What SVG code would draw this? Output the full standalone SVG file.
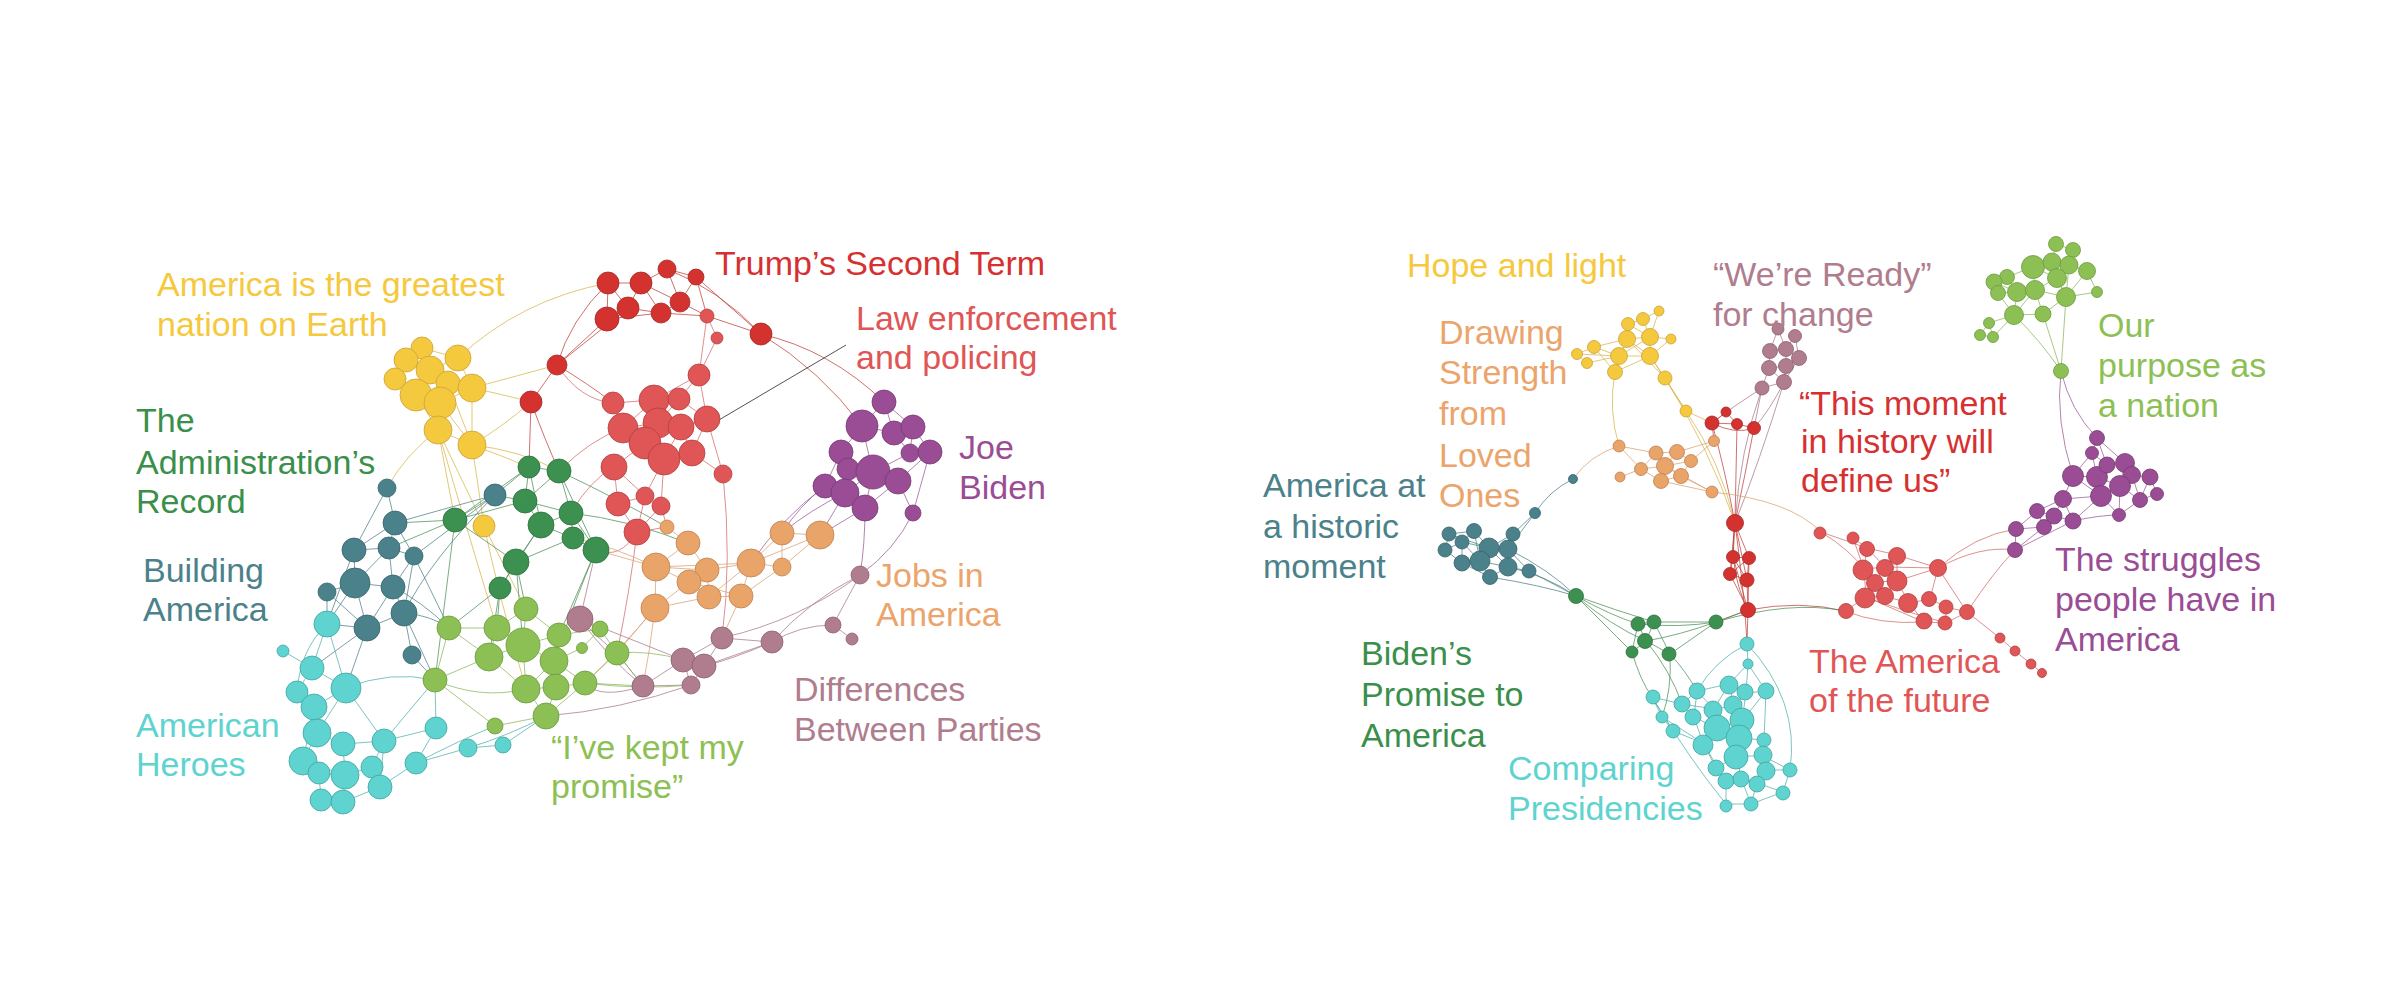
<svg xmlns="http://www.w3.org/2000/svg" width="2404" height="992" viewBox="0 0 2404 992">
<style>
.e path{fill:none;stroke-width:1;stroke-opacity:.75}
.ey{stroke:#D9B44A}.et{stroke:#C0403A}.el{stroke:#D46A6A}.ep{stroke:#9A5A95}.eo{stroke:#D9A070}.ed{stroke:#A8788A}.eg{stroke:#4E8F5A}.eb{stroke:#4E8088}.ec{stroke:#4FB0AC}.ek{stroke:#8AB55A}
circle{stroke-width:.8}
.ny circle{fill:#F5C93E;stroke:#C9A23A}
.nt circle{fill:#D4322F;stroke:#A02828}
.nl circle{fill:#E05555;stroke:#B04040}
.np circle{fill:#9A4D95;stroke:#743A72}
.no circle{fill:#E9A46A;stroke:#BF8050}
.nd circle{fill:#B07D8E;stroke:#8A5E6E}
.ng circle{fill:#3D9150;stroke:#2C6E3B}
.nb circle{fill:#4B818B;stroke:#36626A}
.nc circle{fill:#5ED3CF;stroke:#3FA5A1}
.nk circle{fill:#8DC054;stroke:#6A9A3C}
text{font-family:"Liberation Sans",Arial,Helvetica,sans-serif;font-size:34px}
</style>
<rect width="2404" height="992" fill="#FFFFFF"/>
<g id="connectors" class="e">
<path class="ey" d="M422 348L406 360M422 348L430 370M422 348L458 358M406 360L430 370M406 360L395 379M458 358L430 370M458 358L472 388M430 370L448 383M430 370L416 395M395 379L416 395M448 383L472 388M448 383L440 403M416 395L440 403M472 388L440 403M440 403L438 430M416 395L438 430M472 388L472 445M440 403L472 445M438 430L472 445M448 383L472 445M438 430L484 526M472 445L484 526M484 526L526 609M484 526Q500 600 526 689M438 430Q470 540 497 628M438 430Q405 455 387 488M438 430L455 520M472 445Q500 455 529 467M472 445Q520 450 559 471M472 388Q520 375 557 365M472 388Q505 395 531 402M458 358Q520 300 608 283M472 445Q505 425 531 402"/>
<path class="et" d="M608 283L641 283M608 283L607 319M608 283L628 308M641 283L667 269M641 283L628 308M641 283L661 313M667 269L696 277M667 269L680 302M607 319L628 308M628 308L661 313M661 313L680 302M680 302L696 277M641 283L680 302M607 319L661 313M696 277L707 316M680 302L707 316M661 313L707 316M667 269Q720 290 761 334M696 277L761 334M707 316L761 334M607 319L557 365M628 308L557 365M557 365L531 402M608 283Q570 320 557 365M531 402L529 467M531 402Q545 440 559 471M557 365Q590 385 613 403M761 334Q830 350 884 402M761 334Q820 370 862 426"/>
<path class="el" d="M707 316L717 338M717 338L699 375M699 375L654 400M699 375L679 399M699 375L707 419M613 403L654 400M613 403L623 428M654 400L679 399M654 400L623 428M654 400L658 423M679 399L658 423M679 399L707 419M623 428L658 423M623 428L645 443M658 423L681 427M658 423L645 443M681 427L707 419M681 427L664 459M681 427L692 453M707 419L692 453M645 443L664 459M645 443L614 467M664 459L692 453M664 459L645 496M664 459L661 506M614 467L618 504M614 467L645 496M645 496L661 506M645 496L618 504M618 504L637 532M645 496L637 532M661 506L637 532M707 419L723 474M692 453L723 474M723 474Q732 560 722 638M637 532L667 527M661 506L667 527M637 532Q620 560 596 550M637 532Q630 590 617 653M623 428Q590 440 559 471M699 375L707 316M613 403Q580 400 557 365M614 467Q590 480 571 513"/>
<path class="ep" d="M884 402L862 426M884 402L894 433M884 402L913 427M862 426L894 433M862 426L841 452M862 426L873 472M894 433L913 427M894 433L910 453M913 427L930 452M913 427L910 453M841 452L848 469M841 452L825 486M910 453L930 452M910 453L873 472M930 452L898 481M930 452L913 513M848 469L873 472M848 469L845 493M873 472L898 481M873 472L845 493M873 472L865 508M898 481L865 508M825 486L845 493M845 493L865 508M898 481L913 513M825 486Q800 505 782 533M845 493Q810 510 782 533M845 493L820 535M865 508L820 535M825 486Q780 520 751 563M865 508Q865 545 860 575M913 513Q895 550 860 575"/>
<path class="eo" d="M667 527L688 543M688 543L656 567M688 543L707 570M782 533L820 535M782 533L751 563M782 533L782 567M820 535L782 567M820 535L751 563M656 567L707 570M656 567L689 582M656 567L655 608M707 570L689 582M707 570L751 563M707 570L709 597M689 582L709 597M689 582L741 596M751 563L782 567M751 563L741 596M751 563L709 597M709 597L741 596M709 597L655 608M741 596L782 567M655 608L689 582M656 567L751 563M655 608L617 653M655 608Q650 650 643 686M656 567L596 550M656 567Q610 545 573 538M741 596L722 638M655 608Q620 650 585 683"/>
<path class="ed" d="M860 575L833 625M833 625L852 639M860 575Q810 600 772 642M833 625Q800 625 772 642M722 638L772 642M722 638L683 660M722 638L704 666M772 642L704 666M683 660L704 666M683 660L643 686M683 660L691 685M704 666L691 685M643 686L691 685M580 619L683 660M580 619Q610 660 643 686M580 619L600 629M580 619Q600 640 617 653M580 619L596 550M643 686L617 653M643 686Q600 700 585 683M691 685Q620 710 546 716M772 642Q730 660 704 666M860 575Q800 620 722 638"/>
<path class="eg" d="M529 467L559 471M529 467L525 501M559 471L525 501M559 471L571 513M525 501L571 513M525 501L541 525M571 513L541 525M571 513L573 538M541 525L573 538M541 525L516 562M573 538L596 550M596 550L571 513M516 562L500 588M541 525L500 588M573 538L516 562M455 520L529 467M455 520L525 501M455 520L516 562M529 467L541 525M559 471L596 550M455 520L495 495M455 520L395 523M455 520L389 548M529 467L495 495M525 501L495 495M516 562L526 609M500 588L449 628M500 588L497 628M516 562L523 645M596 550L559 635M596 550Q575 600 554 661M500 588L489 657M455 520Q445 600 435 680M571 513Q630 520 688 543M559 471Q620 500 667 527"/>
<path class="eb" d="M387 488L395 523M395 523L354 550M395 523L389 548M395 523L414 556M354 550L389 548M354 550L355 583M389 548L414 556M389 548L355 583M389 548L393 587M414 556L393 587M355 583L393 587M355 583L327 592M355 583L367 628M393 587L404 613M393 587L367 628M327 592L367 628M404 613L367 628M404 613L412 655M414 556L404 613M387 488L354 550M495 495L414 556M495 495Q440 510 395 523M327 592L327 624M355 583L327 624M367 628L327 624M367 628L312 668M367 628L346 688M404 613Q430 615 449 628M412 655L435 680M404 613L435 680M354 550L327 624M393 587Q420 600 449 628M414 556L449 628M495 495Q430 560 404 613"/>
<path class="ec" d="M327 624L312 668M283 651L312 668M312 668L346 688M312 668L297 692M346 688L314 707M297 692L314 707M314 707L317 733M346 688L317 733M317 733L343 744M317 733L303 761M343 744L384 741M343 744L345 775M384 741L372 767M384 741L380 787M303 761L319 773M303 761L345 775M319 773L345 775M319 773L321 800M345 775L343 802M321 800L343 802M345 775L372 767M372 767L380 787M380 787L343 802M416 763L380 787M416 763L436 728M436 728L384 741M468 748L503 745M416 763L468 748M346 688L384 741M327 624L346 688M314 707L303 761M327 624Q300 650 297 692M436 728L435 680M416 763Q460 740 495 726M468 748Q510 735 546 716M503 745L546 716M384 741L435 680M346 688Q390 670 435 680"/>
<path class="ek" d="M526 609L523 645M526 609L497 628M526 609L559 635M449 628L497 628M449 628L489 657M449 628L435 680M497 628L523 645M497 628L489 657M523 645L559 635M523 645L489 657M523 645L554 661M523 645L526 689M559 635L554 661M559 635L600 629M600 629L582 648M582 648L554 661M600 629L617 653M489 657L435 680M489 657L526 689M554 661L556 687M554 661L526 689M526 689L556 687M556 687L585 683M617 653L585 683M526 689L546 716M556 687L546 716M585 683L546 716M546 716L495 726M435 680L495 726M554 661L585 683M435 680Q480 700 526 689M617 653L643 686M585 683L643 686M585 683Q640 690 691 685M617 653Q650 650 683 660"/>
<path d="M846 345L707 427" stroke="#1A1A1A" stroke-width="2" stroke-opacity="1"/>
<path class="ey" d="M1659 311L1643 319M1659 311L1650 337M1643 319L1628 324M1643 319L1650 337M1628 324L1627 339M1628 324L1650 337M1627 339L1650 337M1627 339L1619 356M1627 339L1650 356M1650 337L1650 356M1650 337L1671 339M1650 337L1619 356M1671 339L1650 356M1594 347L1577 354M1594 347L1619 356M1594 347L1627 339M1577 354L1587 363M1587 363L1619 356M1577 354L1619 356M1619 356L1650 356M1619 356L1615 372M1650 356L1615 372M1650 356L1665 378M1627 339L1615 372M1665 378L1686 411M1650 356L1686 411M1627 339L1665 378M1594 347L1615 372M1615 372Q1608 410 1619 446M1686 411L1712 423M1686 411Q1720 460 1735 523M1665 378Q1710 450 1735 523"/>
<path class="ed" d="M1778 329L1770 351M1778 329L1786 349M1795 336L1786 349M1795 336L1799 358M1770 351L1786 349M1770 351L1769 368M1786 349L1799 358M1786 349L1786 366M1799 358L1786 366M1769 368L1786 366M1769 368L1762 388M1786 366L1784 382M1769 368L1784 382M1784 382L1762 388M1799 358L1784 382M1762 388L1754 428M1762 388Q1735 405 1712 423M1784 382Q1770 410 1754 428M1762 388Q1740 450 1735 523M1784 382Q1760 460 1735 523"/>
<path class="et" d="M1726 412L1712 423M1726 412L1737 424M1712 423L1737 424M1737 424L1754 428M1712 423Q1735 435 1754 428M1712 423Q1725 470 1735 523M1737 424L1735 523M1754 428Q1745 475 1735 523M1712 423L1714 441M1735 523L1733 557M1735 523L1749 558M1735 523L1730 574M1735 523L1747 580M1733 557L1749 558M1733 557L1730 574M1749 558L1747 580M1730 574L1747 580M1733 557L1747 580M1749 558L1730 574M1730 574L1748 610M1747 580L1748 610M1733 557L1748 610M1749 558L1748 610M1735 523Q1728 570 1748 610M1748 610L1747 644M1748 610L1716 622M1748 610Q1800 600 1845 611M1735 523Q1745 600 1747 644"/>
<path class="eo" d="M1619 446L1656 453M1619 446L1641 469M1656 453L1677 452M1656 453L1665 466M1656 453L1641 469M1677 452L1691 461M1677 452L1665 466M1677 452L1714 441M1691 461L1714 441M1691 461L1665 466M1691 461L1681 476M1641 469L1665 466M1641 469L1620 477M1641 469L1661 481M1665 466L1661 481M1665 466L1681 476M1661 481L1681 476M1661 481L1712 492M1681 476L1712 492M1665 466L1712 492M1619 446Q1590 455 1573 479M1712 492Q1790 500 1821 532"/>
<path class="eb" d="M1573 479Q1550 490 1535 513M1535 513L1513 534M1535 513L1508 549M1513 534L1489 548M1513 534L1508 549M1474 531L1449 534M1474 531L1462 542M1474 531L1489 548M1449 534L1462 542M1449 534L1445 550M1462 542L1489 548M1462 542L1445 550M1462 542L1462 563M1462 542L1480 561M1489 548L1508 549M1489 548L1480 561M1489 548L1508 567M1508 549L1508 567M1445 550L1462 563M1462 563L1480 561M1462 563L1490 577M1480 561L1490 577M1480 561L1508 567M1508 567L1529 571M1508 567L1490 577M1474 531L1480 561M1449 534L1489 548M1508 549L1529 571M1508 567Q1545 575 1576 596M1529 571L1576 596M1490 577Q1540 585 1576 596M1508 549Q1550 570 1576 596"/>
<path class="eg" d="M1576 596Q1610 615 1638 624M1576 596Q1615 610 1654 622M1576 596Q1610 625 1646 641M1576 596Q1600 620 1632 652M1638 624L1654 622M1638 624L1646 641M1654 622L1646 641M1638 624L1632 652M1646 641L1632 652M1646 641L1670 654M1654 622L1670 654M1654 622L1716 622M1638 624Q1680 628 1716 622M1670 654L1716 622M1646 641Q1680 635 1716 622M1716 622L1748 610M1716 622Q1790 600 1845 611M1632 652Q1640 680 1652 697M1646 641Q1670 670 1682 704M1670 654Q1685 670 1697 691M1670 654Q1672 690 1662 717"/>
<path class="ec" d="M1747 644L1748 664M1748 664L1729 684M1748 664L1746 693M1748 664L1766 691M1729 684L1697 691M1729 684L1746 693M1729 684L1714 709M1729 684L1734 706M1697 691L1682 704M1697 691L1714 709M1697 691L1694 717M1746 693L1766 691M1746 693L1734 706M1746 693L1742 721M1766 691L1764 740M1766 691L1742 721M1652 697L1682 704M1652 697L1662 717M1682 704L1694 717M1682 704L1714 709M1714 709L1734 706M1714 709L1718 729M1734 706L1742 721M1694 717L1718 729M1694 717L1703 743M1662 717L1673 731M1673 731L1703 743M1742 721L1718 729M1742 721L1738 738M1718 729L1738 738M1718 729L1703 743M1738 738L1737 756M1738 738L1764 740M1703 743L1716 768M1764 740L1763 756M1737 756L1763 756M1737 756L1716 768M1737 756L1741 778M1763 756L1766 770M1763 756L1790 770M1716 768L1726 781M1766 770L1757 783M1766 770L1790 770M1726 781L1741 778M1741 778L1757 783M1726 781L1726 804M1741 778L1751 804M1757 783L1751 804M1757 783L1783 792M1783 792L1751 804M1726 804L1751 804M1790 770L1783 792M1662 717L1703 743M1652 697L1673 731M1703 743L1726 781M1747 644Q1715 660 1697 691M1790 770Q1800 700 1747 644M1652 697Q1690 760 1726 804"/>
<path class="el" d="M1821 532L1867 548M1821 532Q1850 550 1864 569M1853 538L1867 548M1853 538L1864 569M1867 548L1897 555M1867 548L1864 569M1867 548L1885 567M1897 555L1885 567M1897 555L1897 581M1897 555L1938 568M1864 569L1885 567M1864 569L1875 582M1864 569L1866 597M1885 567L1875 582M1885 567L1897 581M1885 567L1938 568M1875 582L1897 581M1875 582L1866 597M1875 582L1884 596M1897 581L1884 596M1897 581L1909 603M1897 581L1938 568M1866 597L1884 596M1866 597L1845 611M1884 596L1909 603M1909 603L1930 599M1909 603L1924 622M1930 599L1946 607M1930 599L1938 568M1946 607L1967 612M1946 607L1946 623M1924 622L1946 623M1967 612L1946 623M1938 568L1967 612M1845 611Q1880 625 1924 622M1866 597L1924 622M1967 612L2000 638M2000 638L2015 651M2015 651L2031 664M2031 664L2042 673M1866 597Q1900 610 1946 623M1938 568Q1980 545 2015 550M1938 568Q1975 535 2016 529M1967 612Q1995 570 2015 550"/>
<path class="ep" d="M2097 438L2092 453M2097 438L2107 465M2097 438L2125 463M2092 453L2073 476M2092 453L2097 477M2092 453L2107 465M2073 476L2097 477M2073 476L2063 499M2073 476L2101 496M2097 477L2107 465M2097 477L2120 486M2097 477L2101 496M2107 465L2125 463M2125 463L2132 475M2125 463L2120 486M2132 475L2150 477M2132 475L2120 486M2132 475L2140 500M2150 477L2157 494M2150 477L2140 500M2120 486L2101 496M2120 486L2140 500M2157 494L2140 500M2101 496L2119 515M2101 496L2063 499M2140 500L2119 515M2063 499L2037 511M2063 499L2054 516M2063 499L2073 521M2037 511L2054 516M2037 511L2044 527M2037 511L2016 529M2054 516L2044 527M2054 516L2073 521M2044 527L2016 529M2044 527L2015 550M2016 529L2015 550M2073 521L2015 550M2101 496L2073 521M2120 486L2119 515M2073 521Q2100 515 2119 515M2073 476Q2055 420 2061 371M2097 438Q2070 410 2061 371"/>
<path class="ek" d="M2056 244L2073 250M2056 244L2052 262M2073 250L2069 265M2033 267L2052 262M2033 267L2007 277M2033 267L2035 290M2033 267L2057 278M2052 262L2069 265M2052 262L2057 278M2069 265L2087 271M2069 265L2057 278M2069 265L2066 297M2087 271L2066 297M2087 271L2097 292M2007 277L1994 282M2007 277L2017 292M1994 282L1998 293M1994 282L2017 292M2057 278L2035 290M2057 278L2066 297M2017 292L2035 290M2017 292L1998 293M2017 292L2014 315M2035 290L2014 315M2035 290L2043 314M2035 290L2066 297M2066 297L2043 314M2014 315L2043 314M2014 315L1989 323M1989 323L1980 335M1989 323L1993 337M1980 335L1993 337M2014 315L1993 337M1998 293L2014 315M2066 297L2097 292M2014 315Q2040 340 2061 371M2043 314L2061 371M2066 297L2061 371"/>
</g>
<g id="nodes-left">
<g id="y1" class="ny"><circle cx="422" cy="348" r="11"/></g>
<g id="y2" class="ny"><circle cx="406" cy="360" r="12"/></g>
<g id="y3" class="ny"><circle cx="458" cy="358" r="13"/></g>
<g id="y4" class="ny"><circle cx="430" cy="370" r="14"/></g>
<g id="y5" class="ny"><circle cx="395" cy="379" r="11"/></g>
<g id="y6" class="ny"><circle cx="448" cy="383" r="12"/></g>
<g id="y7" class="ny"><circle cx="416" cy="395" r="16"/></g>
<g id="y8" class="ny"><circle cx="472" cy="388" r="14"/></g>
<g id="y9" class="ny"><circle cx="440" cy="403" r="16"/></g>
<g id="y10" class="ny"><circle cx="438" cy="430" r="14"/></g>
<g id="y11" class="ny"><circle cx="472" cy="445" r="14"/></g>
<g id="y12" class="ny"><circle cx="484" cy="526" r="11"/></g>
<g id="t1" class="nt"><circle cx="608" cy="283" r="11"/></g>
<g id="t2" class="nt"><circle cx="641" cy="283" r="11"/></g>
<g id="t3" class="nt"><circle cx="667" cy="269" r="9"/></g>
<g id="t4" class="nt"><circle cx="696" cy="277" r="8"/></g>
<g id="t5" class="nt"><circle cx="607" cy="319" r="12"/></g>
<g id="t6" class="nt"><circle cx="628" cy="308" r="11"/></g>
<g id="t7" class="nt"><circle cx="661" cy="313" r="10"/></g>
<g id="t8" class="nt"><circle cx="680" cy="302" r="10"/></g>
<g id="t9" class="nt"><circle cx="557" cy="365" r="10"/></g>
<g id="t10" class="nt"><circle cx="531" cy="402" r="11"/></g>
<g id="t11" class="nt"><circle cx="761" cy="334" r="11"/></g>
<g id="l1" class="nl"><circle cx="707" cy="316" r="7"/></g>
<g id="l2" class="nl"><circle cx="717" cy="338" r="6"/></g>
<g id="l3" class="nl"><circle cx="699" cy="375" r="11"/></g>
<g id="l4" class="nl"><circle cx="613" cy="403" r="11"/></g>
<g id="l5" class="nl"><circle cx="654" cy="400" r="15"/></g>
<g id="l6" class="nl"><circle cx="679" cy="399" r="11"/></g>
<g id="l7" class="nl"><circle cx="623" cy="428" r="15"/></g>
<g id="l8" class="nl"><circle cx="658" cy="423" r="15"/></g>
<g id="l9" class="nl"><circle cx="681" cy="427" r="13"/></g>
<g id="l10" class="nl"><circle cx="707" cy="419" r="13"/></g>
<g id="l11" class="nl"><circle cx="645" cy="443" r="16"/></g>
<g id="l12" class="nl"><circle cx="664" cy="459" r="16"/></g>
<g id="l13" class="nl"><circle cx="692" cy="453" r="13"/></g>
<g id="l14" class="nl"><circle cx="614" cy="467" r="13"/></g>
<g id="l15" class="nl"><circle cx="723" cy="474" r="9"/></g>
<g id="l16" class="nl"><circle cx="645" cy="496" r="9"/></g>
<g id="l17" class="nl"><circle cx="661" cy="506" r="9"/></g>
<g id="l18" class="nl"><circle cx="618" cy="504" r="12"/></g>
<g id="l19" class="nl"><circle cx="637" cy="532" r="13"/></g>
<g id="p1" class="np"><circle cx="884" cy="402" r="12"/></g>
<g id="p2" class="np"><circle cx="862" cy="426" r="16"/></g>
<g id="p3" class="np"><circle cx="894" cy="433" r="12"/></g>
<g id="p4" class="np"><circle cx="913" cy="427" r="12"/></g>
<g id="p5" class="np"><circle cx="841" cy="452" r="12"/></g>
<g id="p6" class="np"><circle cx="910" cy="453" r="9"/></g>
<g id="p7" class="np"><circle cx="930" cy="452" r="12"/></g>
<g id="p8" class="np"><circle cx="848" cy="469" r="11"/></g>
<g id="p9" class="np"><circle cx="873" cy="472" r="17"/></g>
<g id="p10" class="np"><circle cx="898" cy="481" r="13"/></g>
<g id="p11" class="np"><circle cx="825" cy="486" r="12"/></g>
<g id="p12" class="np"><circle cx="845" cy="493" r="14"/></g>
<g id="p13" class="np"><circle cx="865" cy="508" r="13"/></g>
<g id="p14" class="np"><circle cx="913" cy="513" r="8"/></g>
<g id="o1" class="no"><circle cx="667" cy="527" r="7"/></g>
<g id="o2" class="no"><circle cx="688" cy="543" r="12"/></g>
<g id="o3" class="no"><circle cx="782" cy="533" r="12"/></g>
<g id="o4" class="no"><circle cx="820" cy="535" r="14"/></g>
<g id="o5" class="no"><circle cx="656" cy="567" r="14"/></g>
<g id="o6" class="no"><circle cx="707" cy="570" r="12"/></g>
<g id="o7" class="no"><circle cx="689" cy="582" r="12"/></g>
<g id="o8" class="no"><circle cx="751" cy="563" r="14"/></g>
<g id="o9" class="no"><circle cx="782" cy="567" r="9"/></g>
<g id="o10" class="no"><circle cx="709" cy="597" r="12"/></g>
<g id="o11" class="no"><circle cx="741" cy="596" r="12"/></g>
<g id="o12" class="no"><circle cx="655" cy="608" r="14"/></g>
<g id="d1" class="nd"><circle cx="860" cy="575" r="9"/></g>
<g id="d2" class="nd"><circle cx="833" cy="625" r="8"/></g>
<g id="d3" class="nd"><circle cx="852" cy="639" r="6"/></g>
<g id="d4" class="nd"><circle cx="722" cy="638" r="11"/></g>
<g id="d5" class="nd"><circle cx="772" cy="642" r="11"/></g>
<g id="d6" class="nd"><circle cx="683" cy="660" r="12"/></g>
<g id="d7" class="nd"><circle cx="704" cy="666" r="12"/></g>
<g id="d8" class="nd"><circle cx="643" cy="686" r="11"/></g>
<g id="d9" class="nd"><circle cx="691" cy="685" r="9"/></g>
<g id="d10" class="nd"><circle cx="580" cy="619" r="13"/></g>
<g id="g1" class="ng"><circle cx="529" cy="467" r="11"/></g>
<g id="g2" class="ng"><circle cx="559" cy="471" r="12"/></g>
<g id="g3" class="ng"><circle cx="525" cy="501" r="12"/></g>
<g id="g4" class="ng"><circle cx="571" cy="513" r="12"/></g>
<g id="g5" class="ng"><circle cx="541" cy="525" r="13"/></g>
<g id="g6" class="ng"><circle cx="573" cy="538" r="11"/></g>
<g id="g7" class="ng"><circle cx="596" cy="550" r="13"/></g>
<g id="g8" class="ng"><circle cx="516" cy="562" r="13"/></g>
<g id="g9" class="ng"><circle cx="455" cy="520" r="12"/></g>
<g id="g10" class="ng"><circle cx="500" cy="588" r="11"/></g>
<g id="b1" class="nb"><circle cx="387" cy="488" r="9"/></g>
<g id="b2" class="nb"><circle cx="495" cy="495" r="11"/></g>
<g id="b3" class="nb"><circle cx="395" cy="523" r="12"/></g>
<g id="b4" class="nb"><circle cx="354" cy="550" r="12"/></g>
<g id="b5" class="nb"><circle cx="389" cy="548" r="11"/></g>
<g id="b6" class="nb"><circle cx="414" cy="556" r="9"/></g>
<g id="b7" class="nb"><circle cx="355" cy="583" r="15"/></g>
<g id="b8" class="nb"><circle cx="393" cy="587" r="12"/></g>
<g id="b9" class="nb"><circle cx="327" cy="592" r="9"/></g>
<g id="b10" class="nb"><circle cx="404" cy="613" r="13"/></g>
<g id="b11" class="nb"><circle cx="367" cy="628" r="13"/></g>
<g id="b12" class="nb"><circle cx="412" cy="655" r="9"/></g>
<g id="c1" class="nc"><circle cx="327" cy="624" r="13"/></g>
<g id="c2" class="nc"><circle cx="283" cy="651" r="6"/></g>
<g id="c3" class="nc"><circle cx="312" cy="668" r="12"/></g>
<g id="c4" class="nc"><circle cx="346" cy="688" r="15"/></g>
<g id="c5" class="nc"><circle cx="297" cy="692" r="11"/></g>
<g id="c6" class="nc"><circle cx="314" cy="707" r="13"/></g>
<g id="c7" class="nc"><circle cx="317" cy="733" r="14"/></g>
<g id="c8" class="nc"><circle cx="343" cy="744" r="12"/></g>
<g id="c9" class="nc"><circle cx="384" cy="741" r="12"/></g>
<g id="c10" class="nc"><circle cx="436" cy="728" r="11"/></g>
<g id="c11" class="nc"><circle cx="303" cy="761" r="14"/></g>
<g id="c12" class="nc"><circle cx="319" cy="773" r="11"/></g>
<g id="c13" class="nc"><circle cx="345" cy="775" r="14"/></g>
<g id="c14" class="nc"><circle cx="372" cy="767" r="11"/></g>
<g id="c15" class="nc"><circle cx="416" cy="763" r="11"/></g>
<g id="c16" class="nc"><circle cx="380" cy="787" r="12"/></g>
<g id="c17" class="nc"><circle cx="321" cy="800" r="11"/></g>
<g id="c18" class="nc"><circle cx="343" cy="802" r="12"/></g>
<g id="c19" class="nc"><circle cx="468" cy="748" r="9"/></g>
<g id="c20" class="nc"><circle cx="503" cy="745" r="8"/></g>
<g id="k1" class="nk"><circle cx="526" cy="609" r="12"/></g>
<g id="k2" class="nk"><circle cx="449" cy="628" r="12"/></g>
<g id="k3" class="nk"><circle cx="497" cy="628" r="13"/></g>
<g id="k4" class="nk"><circle cx="523" cy="645" r="17"/></g>
<g id="k5" class="nk"><circle cx="559" cy="635" r="12"/></g>
<g id="k6" class="nk"><circle cx="600" cy="629" r="8"/></g>
<g id="k7" class="nk"><circle cx="582" cy="648" r="5.5"/></g>
<g id="k8" class="nk"><circle cx="489" cy="657" r="14"/></g>
<g id="k9" class="nk"><circle cx="554" cy="661" r="14"/></g>
<g id="k10" class="nk"><circle cx="617" cy="653" r="12"/></g>
<g id="k11" class="nk"><circle cx="435" cy="680" r="12"/></g>
<g id="k12" class="nk"><circle cx="526" cy="689" r="14"/></g>
<g id="k13" class="nk"><circle cx="556" cy="687" r="13"/></g>
<g id="k14" class="nk"><circle cx="585" cy="683" r="12"/></g>
<g id="k15" class="nk"><circle cx="546" cy="716" r="13"/></g>
<g id="k16" class="nk"><circle cx="495" cy="726" r="8"/></g>
</g>
<g id="nodes-right">
<g id="ra1" class="ny"><circle cx="1659" cy="311" r="5"/></g>
<g id="ra2" class="ny"><circle cx="1643" cy="319" r="6.5"/></g>
<g id="ra3" class="ny"><circle cx="1628" cy="324" r="6.5"/></g>
<g id="ra4" class="ny"><circle cx="1627" cy="339" r="8.5"/></g>
<g id="ra5" class="ny"><circle cx="1650" cy="337" r="8.5"/></g>
<g id="ra6" class="ny"><circle cx="1671" cy="339" r="5"/></g>
<g id="ra7" class="ny"><circle cx="1594" cy="347" r="6.5"/></g>
<g id="ra8" class="ny"><circle cx="1577" cy="354" r="5.5"/></g>
<g id="ra9" class="ny"><circle cx="1587" cy="363" r="5.5"/></g>
<g id="ra10" class="ny"><circle cx="1619" cy="356" r="8.5"/></g>
<g id="ra11" class="ny"><circle cx="1650" cy="356" r="8.5"/></g>
<g id="ra12" class="ny"><circle cx="1615" cy="372" r="7.5"/></g>
<g id="ra13" class="ny"><circle cx="1665" cy="378" r="7"/></g>
<g id="ra14" class="ny"><circle cx="1686" cy="411" r="6"/></g>
<g id="rm1" class="nd"><circle cx="1778" cy="329" r="6"/></g>
<g id="rm2" class="nd"><circle cx="1795" cy="336" r="6.5"/></g>
<g id="rm3" class="nd"><circle cx="1770" cy="351" r="7.5"/></g>
<g id="rm4" class="nd"><circle cx="1786" cy="349" r="7.5"/></g>
<g id="rm5" class="nd"><circle cx="1799" cy="358" r="7.5"/></g>
<g id="rm6" class="nd"><circle cx="1769" cy="368" r="7.5"/></g>
<g id="rm7" class="nd"><circle cx="1786" cy="366" r="7.5"/></g>
<g id="rm8" class="nd"><circle cx="1784" cy="382" r="7.5"/></g>
<g id="rm9" class="nd"><circle cx="1762" cy="388" r="7"/></g>
<g id="rr1" class="nt"><circle cx="1726" cy="412" r="5"/></g>
<g id="rr2" class="nt"><circle cx="1712" cy="423" r="7"/></g>
<g id="rr3" class="nt"><circle cx="1737" cy="424" r="5.5"/></g>
<g id="rr4" class="nt"><circle cx="1754" cy="428" r="6.5"/></g>
<g id="rr5" class="nt"><circle cx="1735" cy="523" r="8.5"/></g>
<g id="rr6" class="nt"><circle cx="1733" cy="557" r="6.5"/></g>
<g id="rr7" class="nt"><circle cx="1749" cy="558" r="6.5"/></g>
<g id="rr8" class="nt"><circle cx="1730" cy="574" r="6.5"/></g>
<g id="rr9" class="nt"><circle cx="1747" cy="580" r="7"/></g>
<g id="rr10" class="nt"><circle cx="1748" cy="610" r="7.5"/></g>
<g id="ro1" class="no"><circle cx="1619" cy="446" r="6"/></g>
<g id="ro2" class="no"><circle cx="1714" cy="441" r="5.5"/></g>
<g id="ro3" class="no"><circle cx="1656" cy="453" r="7"/></g>
<g id="ro4" class="no"><circle cx="1677" cy="452" r="7.5"/></g>
<g id="ro5" class="no"><circle cx="1691" cy="461" r="6.5"/></g>
<g id="ro6" class="no"><circle cx="1641" cy="469" r="6.5"/></g>
<g id="ro7" class="no"><circle cx="1665" cy="466" r="8.5"/></g>
<g id="ro8" class="no"><circle cx="1620" cy="477" r="5"/></g>
<g id="ro9" class="no"><circle cx="1661" cy="481" r="7.5"/></g>
<g id="ro10" class="no"><circle cx="1681" cy="476" r="7.5"/></g>
<g id="ro11" class="no"><circle cx="1712" cy="492" r="6"/></g>
<g id="rh1" class="nb"><circle cx="1573" cy="479" r="4.5"/></g>
<g id="rh2" class="nb"><circle cx="1535" cy="513" r="5.5"/></g>
<g id="rh3" class="nb"><circle cx="1513" cy="534" r="7"/></g>
<g id="rh4" class="nb"><circle cx="1474" cy="531" r="7.5"/></g>
<g id="rh5" class="nb"><circle cx="1449" cy="534" r="7"/></g>
<g id="rh6" class="nb"><circle cx="1462" cy="542" r="7"/></g>
<g id="rh7" class="nb"><circle cx="1489" cy="548" r="10"/></g>
<g id="rh8" class="nb"><circle cx="1508" cy="549" r="9"/></g>
<g id="rh9" class="nb"><circle cx="1445" cy="550" r="7"/></g>
<g id="rh10" class="nb"><circle cx="1462" cy="563" r="8"/></g>
<g id="rh11" class="nb"><circle cx="1480" cy="561" r="10"/></g>
<g id="rh12" class="nb"><circle cx="1508" cy="567" r="9"/></g>
<g id="rh13" class="nb"><circle cx="1529" cy="571" r="7"/></g>
<g id="rh14" class="nb"><circle cx="1490" cy="577" r="7.5"/></g>
<g id="rg1" class="ng"><circle cx="1576" cy="596" r="7.5"/></g>
<g id="rg2" class="ng"><circle cx="1638" cy="624" r="7"/></g>
<g id="rg3" class="ng"><circle cx="1654" cy="622" r="7"/></g>
<g id="rg4" class="ng"><circle cx="1645" cy="641" r="7.5"/></g>
<g id="rg5" class="ng"><circle cx="1632" cy="652" r="6"/></g>
<g id="rg6" class="ng"><circle cx="1669" cy="654" r="7"/></g>
<g id="rg7" class="ng"><circle cx="1716" cy="622" r="7"/></g>
<g id="rq1" class="nc"><circle cx="1747" cy="644" r="7"/></g>
<g id="rq2" class="nc"><circle cx="1748" cy="664" r="5"/></g>
<g id="rq3" class="nc"><circle cx="1729" cy="685" r="9"/></g>
<g id="rq4" class="nc"><circle cx="1697" cy="691" r="8"/></g>
<g id="rq5" class="nc"><circle cx="1745" cy="692" r="8"/></g>
<g id="rq6" class="nc"><circle cx="1766" cy="691" r="8"/></g>
<g id="rq7" class="nc"><circle cx="1653" cy="697" r="7"/></g>
<g id="rq8" class="nc"><circle cx="1682" cy="704" r="8"/></g>
<g id="rq9" class="nc"><circle cx="1713" cy="710" r="9"/></g>
<g id="rq10" class="nc"><circle cx="1733" cy="705" r="9"/></g>
<g id="rq11" class="nc"><circle cx="1693" cy="717" r="8"/></g>
<g id="rq12" class="nc"><circle cx="1662" cy="717" r="6"/></g>
<g id="rq13" class="nc"><circle cx="1742" cy="720" r="12"/></g>
<g id="rq14" class="nc"><circle cx="1717" cy="728" r="13"/></g>
<g id="rq15" class="nc"><circle cx="1673" cy="731" r="7"/></g>
<g id="rq16" class="nc"><circle cx="1739" cy="738" r="13"/></g>
<g id="rq17" class="nc"><circle cx="1703" cy="745" r="10"/></g>
<g id="rq18" class="nc"><circle cx="1764" cy="740" r="7"/></g>
<g id="rq19" class="nc"><circle cx="1736" cy="757" r="12"/></g>
<g id="rq20" class="nc"><circle cx="1763" cy="755" r="9"/></g>
<g id="rq21" class="nc"><circle cx="1716" cy="768" r="8"/></g>
<g id="rq22" class="nc"><circle cx="1766" cy="771" r="9"/></g>
<g id="rq23" class="nc"><circle cx="1790" cy="770" r="7"/></g>
<g id="rq24" class="nc"><circle cx="1726" cy="781" r="8"/></g>
<g id="rq25" class="nc"><circle cx="1741" cy="779" r="8"/></g>
<g id="rq26" class="nc"><circle cx="1757" cy="784" r="8"/></g>
<g id="rq27" class="nc"><circle cx="1783" cy="793" r="7"/></g>
<g id="rq28" class="nc"><circle cx="1726" cy="806" r="6"/></g>
<g id="rq29" class="nc"><circle cx="1751" cy="804" r="7"/></g>
<g id="rf1" class="nl"><circle cx="1820" cy="533" r="6"/></g>
<g id="rf2" class="nl"><circle cx="1853" cy="538" r="6"/></g>
<g id="rf3" class="nl"><circle cx="1867" cy="549" r="7.5"/></g>
<g id="rf4" class="nl"><circle cx="1897" cy="556" r="8.5"/></g>
<g id="rf5" class="nl"><circle cx="1863" cy="570" r="10"/></g>
<g id="rf6" class="nl"><circle cx="1885" cy="568" r="8.5"/></g>
<g id="rf7" class="nl"><circle cx="1938" cy="568" r="8.5"/></g>
<g id="rf8" class="nl"><circle cx="1875" cy="583" r="8.5"/></g>
<g id="rf9" class="nl"><circle cx="1897" cy="581" r="10"/></g>
<g id="rf10" class="nl"><circle cx="1865" cy="598" r="10"/></g>
<g id="rf11" class="nl"><circle cx="1885" cy="596" r="8.5"/></g>
<g id="rf12" class="nl"><circle cx="1908" cy="603" r="9.5"/></g>
<g id="rf13" class="nl"><circle cx="1929" cy="599" r="7.5"/></g>
<g id="rf14" class="nl"><circle cx="1946" cy="607" r="7"/></g>
<g id="rf15" class="nl"><circle cx="1967" cy="612" r="7.5"/></g>
<g id="rf16" class="nl"><circle cx="1846" cy="611" r="7.5"/></g>
<g id="rf17" class="nl"><circle cx="1924" cy="621" r="8"/></g>
<g id="rf18" class="nl"><circle cx="1945" cy="623" r="7"/></g>
<g id="rf19" class="nl"><circle cx="2000" cy="638" r="5"/></g>
<g id="rf20" class="nl"><circle cx="2015" cy="651" r="5"/></g>
<g id="rf21" class="nl"><circle cx="2031" cy="664" r="5"/></g>
<g id="rf22" class="nl"><circle cx="2042" cy="673" r="4.5"/></g>
<g id="rs1" class="np"><circle cx="2097" cy="438" r="7.5"/></g>
<g id="rs2" class="np"><circle cx="2092" cy="453" r="6.5"/></g>
<g id="rs3" class="np"><circle cx="2073" cy="476" r="10.5"/></g>
<g id="rs4" class="np"><circle cx="2097" cy="477" r="10.5"/></g>
<g id="rs5" class="np"><circle cx="2107" cy="465" r="8"/></g>
<g id="rs6" class="np"><circle cx="2125" cy="463" r="9.5"/></g>
<g id="rs7" class="np"><circle cx="2132" cy="475" r="8.5"/></g>
<g id="rs8" class="np"><circle cx="2150" cy="477" r="8"/></g>
<g id="rs9" class="np"><circle cx="2120" cy="486" r="10.5"/></g>
<g id="rs10" class="np"><circle cx="2157" cy="494" r="6.5"/></g>
<g id="rs11" class="np"><circle cx="2101" cy="496" r="10.5"/></g>
<g id="rs12" class="np"><circle cx="2140" cy="500" r="7.5"/></g>
<g id="rs13" class="np"><circle cx="2063" cy="499" r="8.5"/></g>
<g id="rs14" class="np"><circle cx="2119" cy="515" r="6.5"/></g>
<g id="rs15" class="np"><circle cx="2037" cy="511" r="7.5"/></g>
<g id="rs16" class="np"><circle cx="2054" cy="516" r="8"/></g>
<g id="rs17" class="np"><circle cx="2044" cy="527" r="7.5"/></g>
<g id="rs18" class="np"><circle cx="2073" cy="521" r="8"/></g>
<g id="rs19" class="np"><circle cx="2016" cy="529" r="7.5"/></g>
<g id="rs20" class="np"><circle cx="2015" cy="550" r="7.5"/></g>
<g id="rn1" class="nk"><circle cx="2056" cy="244" r="7.5"/></g>
<g id="rn2" class="nk"><circle cx="2073" cy="250" r="7.5"/></g>
<g id="rn3" class="nk"><circle cx="2033" cy="267" r="11.5"/></g>
<g id="rn4" class="nk"><circle cx="2052" cy="262" r="9"/></g>
<g id="rn5" class="nk"><circle cx="2069" cy="265" r="9"/></g>
<g id="rn6" class="nk"><circle cx="2087" cy="271" r="8.5"/></g>
<g id="rn7" class="nk"><circle cx="2007" cy="277" r="7.5"/></g>
<g id="rn8" class="nk"><circle cx="1994" cy="282" r="8"/></g>
<g id="rn9" class="nk"><circle cx="2057" cy="278" r="9.5"/></g>
<g id="rn10" class="nk"><circle cx="2017" cy="292" r="9.5"/></g>
<g id="rn11" class="nk"><circle cx="2035" cy="290" r="9.5"/></g>
<g id="rn12" class="nk"><circle cx="1998" cy="293" r="7.5"/></g>
<g id="rn13" class="nk"><circle cx="2066" cy="297" r="9.5"/></g>
<g id="rn14" class="nk"><circle cx="2097" cy="292" r="5.5"/></g>
<g id="rn15" class="nk"><circle cx="2014" cy="315" r="9.5"/></g>
<g id="rn16" class="nk"><circle cx="2043" cy="314" r="8"/></g>
<g id="rn17" class="nk"><circle cx="1989" cy="323" r="5.5"/></g>
<g id="rn18" class="nk"><circle cx="1980" cy="335" r="5.5"/></g>
<g id="rn19" class="nk"><circle cx="1993" cy="337" r="5.5"/></g>
<g id="rn20" class="nk"><circle cx="2061" cy="371" r="7.5"/></g>
</g>
<g id="labels">
<text fill="#F5C83E"><tspan x="157" y="296">America is the greatest</tspan><tspan x="157" y="336">nation on Earth</tspan></text>
<text fill="#D63030" x="715" y="275">Trump’s Second Term</text>
<text fill="#E05555"><tspan x="856" y="330">Law enforcement</tspan><tspan x="856" y="369">and policing</tspan></text>
<text fill="#3A8F4B"><tspan x="136" y="432">The</tspan><tspan x="136" y="474">Administration’s</tspan><tspan x="136" y="513">Record</tspan></text>
<text fill="#4B818B"><tspan x="143" y="582">Building</tspan><tspan x="143" y="621">America</tspan></text>
<text fill="#5ED3CF"><tspan x="136" y="737">American</tspan><tspan x="136" y="776">Heroes</tspan></text>
<text fill="#8DC054"><tspan x="551" y="759">“I’ve kept my</tspan><tspan x="551" y="798">promise”</tspan></text>
<text fill="#9A4D95"><tspan x="959" y="459">Joe</tspan><tspan x="959" y="499">Biden</tspan></text>
<text fill="#EBA46B"><tspan x="876" y="587">Jobs in</tspan><tspan x="876" y="626">America</tspan></text>
<text fill="#B07D8E"><tspan x="794" y="701">Differences</tspan><tspan x="794" y="741">Between Parties</tspan></text>
<text fill="#F5C83E" x="1407" y="277">Hope and light</text>
<text fill="#B07D8E"><tspan x="1713" y="286">“We’re Ready”</tspan><tspan x="1713" y="326">for change</tspan></text>
<text fill="#EBA46B"><tspan x="1439" y="344">Drawing</tspan><tspan x="1439" y="384">Strength</tspan><tspan x="1439" y="425">from</tspan><tspan x="1439" y="467">Loved</tspan><tspan x="1439" y="507">Ones</tspan></text>
<text fill="#4B818B"><tspan x="1263" y="497">America at</tspan><tspan x="1263" y="538">a historic</tspan><tspan x="1263" y="578">moment</tspan></text>
<text fill="#D63030"><tspan x="1799" y="415">“This moment</tspan><tspan x="1801" y="453">in history will</tspan><tspan x="1801" y="492">define us”</tspan></text>
<text fill="#8DC054"><tspan x="2098" y="337">Our</tspan><tspan x="2098" y="377">purpose as</tspan><tspan x="2098" y="417">a nation</tspan></text>
<text fill="#9A4D95"><tspan x="2055" y="571">The struggles</tspan><tspan x="2055" y="611">people have in</tspan><tspan x="2055" y="651">America</tspan></text>
<text fill="#E05555"><tspan x="1809" y="673">The America</tspan><tspan x="1809" y="712">of the future</tspan></text>
<text fill="#3A8F4B"><tspan x="1361" y="665">Biden’s</tspan><tspan x="1361" y="706">Promise to</tspan><tspan x="1361" y="747">America</tspan></text>
<text fill="#5ED3CF"><tspan x="1508" y="780">Comparing</tspan><tspan x="1508" y="820">Presidencies</tspan></text>
</g>
</svg>
